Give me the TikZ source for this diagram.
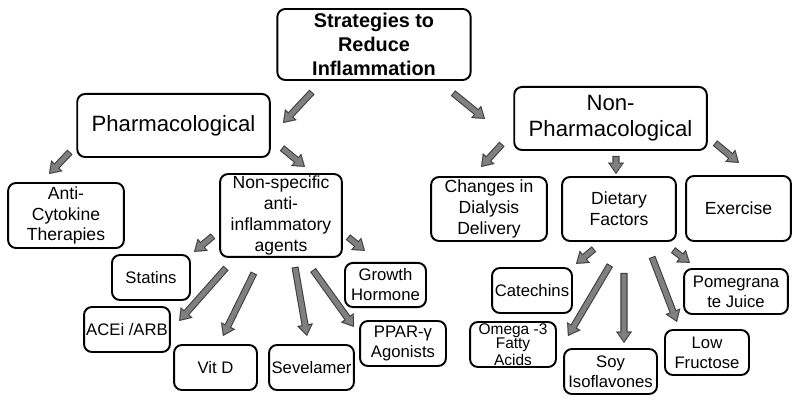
\documentclass[tikz,border=0pt]{standalone}
\usepackage{fontspec}
\setmainfont{Liberation Sans}
\usetikzlibrary{arrows.meta}
\definecolor{arrfill}{HTML}{808080}
\definecolor{arredge}{HTML}{3C3C3C}

\tikzstyle{box}=[draw, line width=1.1pt, rounded corners=4.5pt, align=center, inner sep=0pt]
\tikzstyle{head}=[font=\bfseries\fontsize{11.3}{13.6}\selectfont]
\tikzstyle{big}=[font=\fontsize{12.6}{14.7}\selectfont]
\tikzstyle{mid}=[font=\fontsize{10}{11.8}\selectfont]
\tikzstyle{sml}=[font=\fontsize{9.5}{11.4}\selectfont]
\tikzstyle{blk}=[draw=arredge, line width=4pt, -{Triangle[width=9pt,length=6.5pt,line width=0.1pt]},
  postaction={draw=arrfill, line width=2.8pt, -{Triangle[width=6.7pt,length=4.8pt,line width=0.1pt]}, shorten >=1.05pt, shorten <=0.6pt}]

\begin{document}
\begin{tikzpicture}[x=0.02cm, y=-0.02cm]
	\useasboundingbox (0,0) rectangle (800,404);

        \node[box, head, minimum width=110pt, minimum height=40.4pt] (root) at (374,44.5) {Strategies to\\Reduce\\Inflammation};
        \node[box, big, minimum width=109.6pt, minimum height=35.9pt] (pharm) at (173.5,125.5) {Pharmacological};
        \node[box, big, minimum width=109.6pt, minimum height=35.9pt] (nonph) at (610.5,118.5) {Non-\\Pharmacological};

        \node[box, mid, minimum width=65.9pt, minimum height=37pt] (anti) at (66,215.5) {Anti-\\Cytokine\\Therapies};
        \node[box, mid, minimum width=69.3pt, minimum height=47.2pt] (nonspec) at (281,215.5) {Non-specific\\anti-\\inflammatory\\agents};
        \node[box, mid, minimum width=65.9pt, minimum height=36.4pt] (changes) at (489,209) {Changes in\\Dialysis\\Delivery};
        \node[box, mid, minimum width=64.8pt, minimum height=36.4pt] (dietary) at (619,209) {Dietary\\Factors};
        \node[box, mid, minimum width=59.7pt, minimum height=37pt] (exercise) at (738.5,208.5) {Exercise};

	\node[box, sml, minimum width=44.4pt, minimum height=25.6pt] (statins) at (151,277.5) {Statins};
	\node[box, sml, minimum width=48.9pt, minimum height=25.6pt] (acei) at (127,329.5) {ACEi /ARB};
	\node[box, sml, minimum width=47.2pt, minimum height=25.6pt] (vitd) at (215.5,367.5) {Vit D};
	\node[box, sml, minimum width=48.3pt, minimum height=25.6pt] (sevel) at (311.5,367.5) {Sevelamer};
	\node[box, sml, minimum width=46.1pt, minimum height=25.1pt] (growth) at (385.5,285) {Growth\\Hormone};
	\node[box, sml, minimum width=48.9pt, minimum height=25.6pt] (ppar) at (403,343.5) {PPAR-γ\\Agonists};

	\node[box, sml, minimum width=45.5pt, minimum height=25.6pt] (catech) at (532,290.5) {Catechins};
	\node[box, font=\fontsize{8.8}{8.2}\selectfont, minimum width=48.9pt, minimum height=25.6pt] (omega) at (513,344.5) {Omega -3\\Fatty\\Acids};
	\node[box, sml, minimum width=52.9pt, minimum height=25.6pt] (soy) at (610.5,371.5) {Soy\\Isoflavones};
	\node[box, sml, minimum width=47.8pt, minimum height=25.6pt] (lowf) at (707,352.5) {Low\\Fructose};
	\node[box, sml, minimum width=59.1pt, minimum height=25.6pt] (pomeg) at (736,291.5) {Pomegrana\\te Juice};

        \draw[blk] ([shift={(-62,47.5)}]root.center) -- ([shift={(109.5,-2.5)}]pharm.center);
        \draw[blk] ([shift={(79,48.5)}]root.center) -- ([shift={(-125.5,0.5)}]nonph.center);
        \draw[blk] ([shift={(-103.5,26.5)}]pharm.center) -- ([shift={(-17,-41.5)}]anti.center);
        \draw[blk] ([shift={(108.5,22.5)}]pharm.center) -- ([shift={(24,-48.5)}]nonspec.center);
        \draw[blk] ([shift={(-108.5,25.5)}]nonph.center) -- ([shift={(-8,-42)}]changes.center);
        \draw[blk] ([shift={(5.5,37.5)}]nonph.center) -- ([shift={(-3,-35)}]dietary.center);
        \draw[blk] ([shift={(104.5,24.5)}]nonph.center) -- ([shift={(0.5,-45.5)}]exercise.center);

	\draw[blk] ([shift={(-68,20.5)}]nonspec.center) -- ([shift={(43,-25.5)}]statins.center);
	\draw[blk] ([shift={(67,21.5)}]nonspec.center) -- ([shift={(-20.5,-34)}]growth.center);
	\draw[blk] ([shift={(-55,52.5)}]nonspec.center) -- ([shift={(52,-8.5)}]acei.center);
	\draw[blk] ([shift={(-27,57.5)}]nonspec.center) -- ([shift={(7.5,-31.5)}]vitd.center);
	\draw[blk] ([shift={(14,51.5)}]nonspec.center) -- ([shift={(-4.5,-31.5)}]sevel.center);
	\draw[blk] ([shift={(32,54.5)}]nonspec.center) -- ([shift={(-49,-16.5)}]ppar.center);

	\draw[blk] ([shift={(-25,40)}]dietary.center) -- ([shift={(44,-26.5)}]catech.center);
	\draw[blk] ([shift={(54,41)}]dietary.center) -- ([shift={(-46,-28.5)}]pomeg.center);
	\draw[blk] ([shift={(-9,56)}]dietary.center) -- ([shift={(55,-8.5)}]omega.center);
	\draw[blk] ([shift={(5,64)}]dietary.center) -- ([shift={(13.5,-28.5)}]soy.center);
	\draw[blk] ([shift={(33,48)}]dietary.center) -- ([shift={(-30,-30.5)}]lowf.center);

\end{tikzpicture}
\end{document}
